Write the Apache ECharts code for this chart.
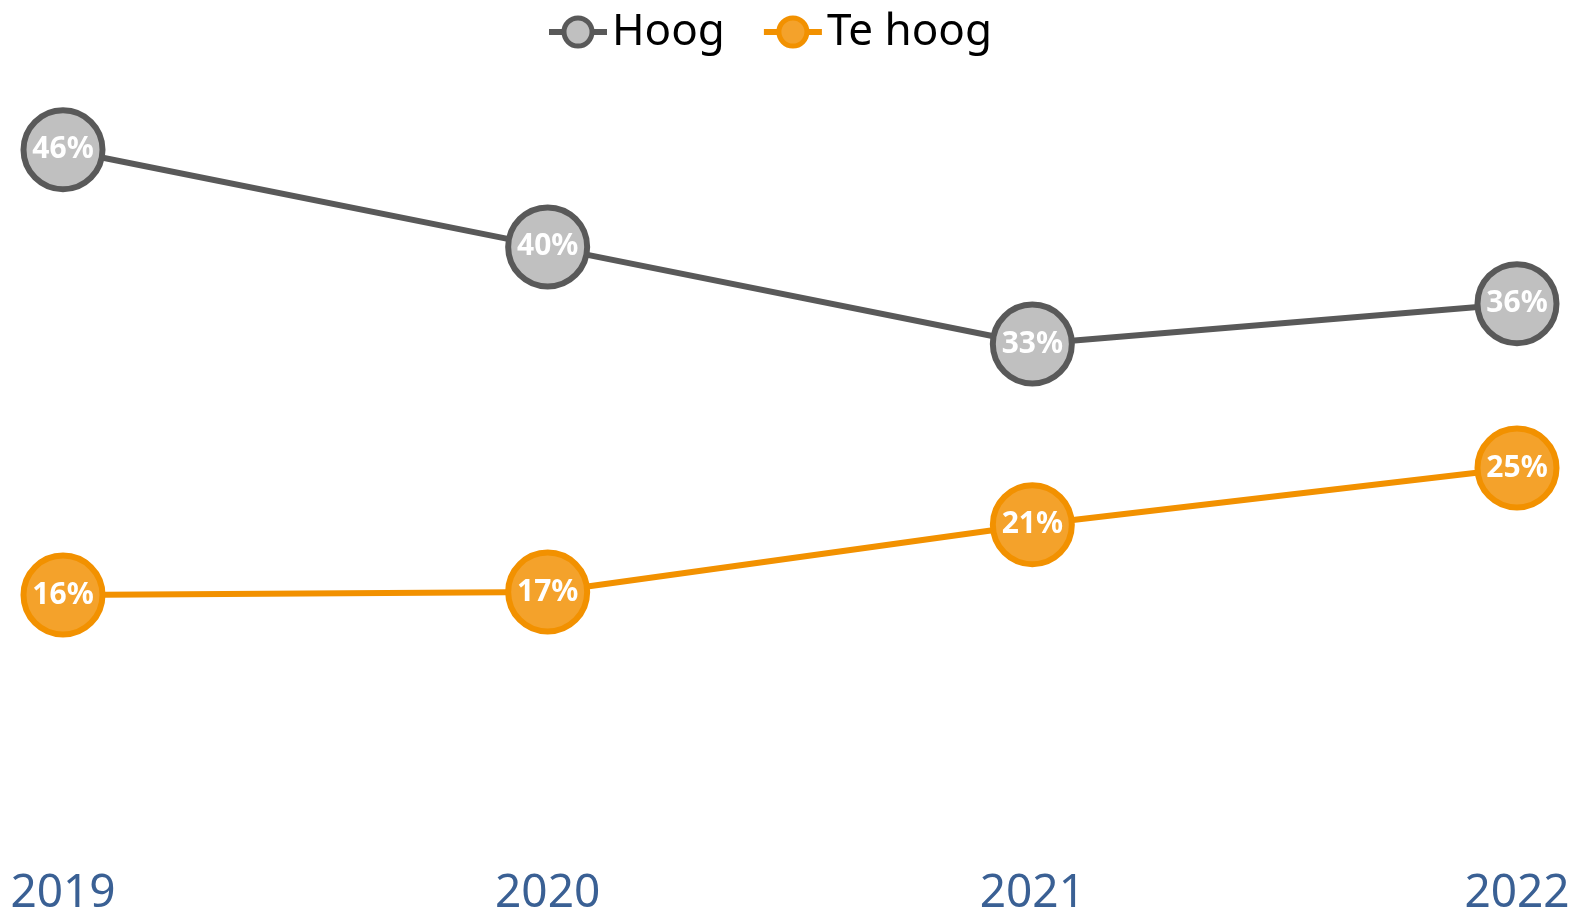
<!DOCTYPE html>
<html>
<head>
<meta charset="utf-8">
<script src="https://cdn.jsdelivr.net/npm/echarts@6/dist/echarts.min.js"></script>
<style>
html, body { margin: 0; padding: 0; background: #fff; }
#main { width: 1575px; height: 917px; }
</style>
</head>
<body>
<div id="main"></div>
<script>
// data
var years = ['2019', '2020', '2021', '2022'];
var hoog = [46.2, 39.7, 33.2, 35.9];
var teHoog = [16.4, 16.6, 21.1, 24.9];

var myChart = echarts.init(document.getElementById('main'));

var pct = function (p) {
    return Math.round(p.value) + '%';
};

var option = {
    backgroundColor: '#ffffff',
    textStyle: { fontFamily: 'Noto Sans' },
    legend: {
        top: 5,
        left: 541,
        itemWidth: 58,
        itemHeight: 35,
        itemGap: 36,
        lineStyle: { width: 6 },
        itemStyle: { borderWidth: 5 },
        textStyle: { fontSize: 44, color: '#000000', fontFamily: 'Noto Sans' },
        data: ['Hoog', 'Te hoog']
    },
    grid: {
        left: 63,
        right: 58,
        top: 93,
        bottom: 74
    },
    xAxis: {
        type: 'category',
        data: years,
        boundaryGap: false,
        axisLine: { show: false },
        axisTick: { show: false },
        axisLabel: {
            fontSize: 46,
            color: '#3a6094',
            margin: 31,
            fontFamily: 'Noto Sans'
        }
    },
    yAxis: {
        type: 'value',
        min: 0,
        max: 50,
        show: false,
        splitLine: { show: false }
    },
    series: [{
        name: 'Hoog',
        type: 'line',
        data: hoog,
        symbol: 'circle',
        symbolSize: 79,
        lineStyle: { color: '#595959', width: 6 },
        itemStyle: { color: '#c0c0c0', borderColor: '#595959', borderWidth: 6 },
        label: {
            show: true,
            position: 'inside',
            formatter: pct,
            color: '#ffffff',
            fontSize: 30,
            fontWeight: 'bold',
            fontFamily: 'Noto Sans'
        },
        animation: false
    }, {
        name: 'Te hoog',
        type: 'line',
        data: teHoog,
        symbol: 'circle',
        symbolSize: 79,
        lineStyle: { color: '#f29100', width: 6 },
        itemStyle: { color: '#f4a22b', borderColor: '#f29100', borderWidth: 6 },
        label: {
            show: true,
            position: 'inside',
            formatter: pct,
            color: '#ffffff',
            fontSize: 30,
            fontWeight: 'bold',
            fontFamily: 'Noto Sans'
        },
        animation: false
    }]
};

myChart.setOption(option);
</script>
</body>
</html>
